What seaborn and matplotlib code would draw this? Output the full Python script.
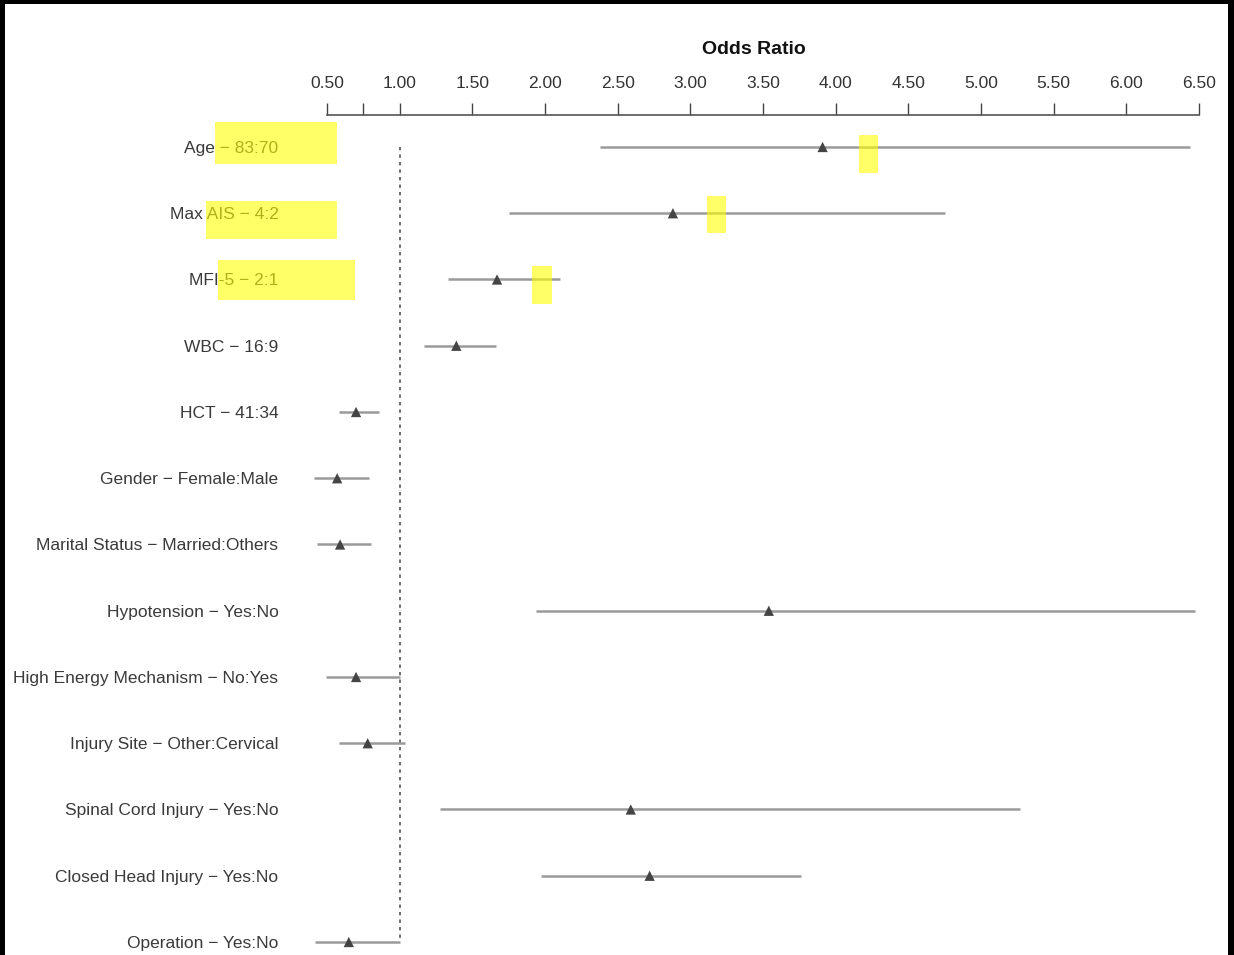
import pandas as pd
import matplotlib
matplotlib.use("Agg")
import matplotlib.pyplot as plt
from matplotlib.patches import Rectangle
import seaborn as sns

# odds ratios with 95% CI
variables = [
    "Age \u2212 83:70",
    "Max AIS \u2212 4:2",
    "MFI-5 \u2212 2:1",
    "WBC \u2212 16:9",
    "HCT \u2212 41:34",
    "Gender \u2212 Female:Male",
    "Marital Status \u2212 Married:Others",
    "Hypotension \u2212 Yes:No",
    "High Energy Mechanism \u2212 No:Yes",
    "Injury Site \u2212 Other:Cervical",
    "Spinal Cord Injury \u2212 Yes:No",
    "Closed Head Injury \u2212 Yes:No",
    "Operation \u2212 Yes:No",
]
odds_ratio = [3.91, 2.88, 1.67, 1.39, 0.70, 0.57, 0.59, 3.54, 0.70, 0.78, 2.59, 2.72, 0.65]
ci_lower = [2.38, 1.75, 1.33, 1.17, 0.58, 0.41, 0.43, 1.94, 0.49, 0.58, 1.28, 1.97, 0.42]
ci_upper = [6.44, 4.75, 2.10, 1.66, 0.86, 0.79, 0.80, 6.47, 1.00, 1.04, 5.27, 3.76, 1.00]

tick_values = [0.50, 0.75, 1.00, 1.50, 2.00, 2.50, 3.00, 3.50, 4.00, 4.50, 5.00, 5.50, 6.00, 6.50]
tick_labels = ["0.50", "", "1.00", "1.50", "2.00", "2.50", "3.00", "3.50", "4.00",
               "4.50", "5.00", "5.50", "6.00", "6.50"]

df = pd.DataFrame({"variable": variables, "OR": odds_ratio,
                   "lower": ci_lower, "upper": ci_upper})
df["pos"] = range(len(df))

W, H = 1234, 955
sns.set_theme(style="white")
plt.rcParams["font.family"] = ["Liberation Sans", "DejaVu Sans"]

fig = plt.figure(figsize=(W / 100, H / 100), dpi=100, facecolor="black")
# white page inside the black screenshot border
fig.patches.append(Rectangle((5 / W, 0), (1228 - 5) / W, (H - 4) / H,
                             transform=fig.transFigure, facecolor="white",
                             edgecolor="none", zorder=-1))

ax = fig.add_axes([327 / W, 0, (1199 - 327) / W, (H - 115) / H])
ax.set_facecolor("none")

ax.hlines(df["pos"], df["lower"], df["upper"], color="#9a9a9a", linewidth=1.8,
          zorder=2, clip_on=False)
sns.scatterplot(data=df, x="OR", y="pos", marker="^", s=55, color="#444444",
                edgecolor="none", ax=ax, zorder=3, legend=False, clip_on=False)
ax.vlines(1.0, 0, len(df) - 1, colors="#555555", linestyles=(0, (2, 2.5)),
          linewidth=1.2, zorder=1)

ax.set_xlim(0.5, 6.5)
ax.set_ylim(-0.483 + 840 / 66.25, -0.483)

ax.xaxis.tick_top()
ax.xaxis.set_label_position("top")
ax.set_xticks(tick_values)
ax.set_xticklabels(tick_labels, fontsize=12.5, color="#333333")
ax.tick_params(axis="x", direction="out", length=9, width=1, color="#444444", pad=8)
ax.set_xlabel("")
fig.text(754 / W, 1 - 50 / H, "Odds Ratio", ha="center", va="center",
         fontsize=14, fontweight="bold", color="#111111")

ax.set_yticks(df["pos"])
ax.set_yticklabels(df["variable"], fontsize=12.5, color="#3a3a3a")
ax.tick_params(axis="y", length=0, pad=35)
ax.set_ylabel("")

for side in ["left", "right", "bottom"]:
    ax.spines[side].set_visible(False)
ax.spines["top"].set_color("#555555")
ax.spines["top"].set_linewidth(1.2)

# yellow marker highlights (x0, y0, x1, y1 in pixels)
highlights = [(215, 122, 337, 164), (206, 201, 337, 239), (218, 260, 355, 300),
              (859, 135, 878, 173), (707, 196, 726, 233), (532, 266, 552, 304)]
for x0, y0, x1, y1 in highlights:
    fig.patches.append(Rectangle((x0 / W, 1 - y1 / H), (x1 - x0) / W, (y1 - y0) / H,
                                 transform=fig.transFigure, facecolor="#ffff00",
                                 alpha=0.6, edgecolor="none", zorder=10))

fig.savefig("out.png", dpi=100, facecolor=fig.get_facecolor())
